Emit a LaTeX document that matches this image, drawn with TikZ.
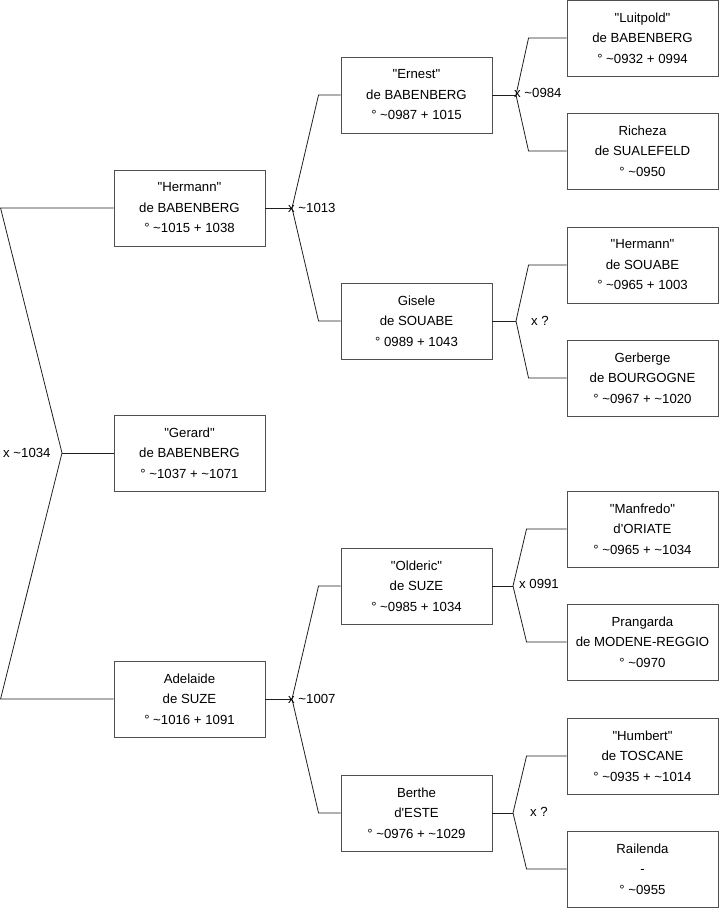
\documentclass[tikz,border=0pt]{standalone}
\usepackage{fontspec}
\usepackage{tikz}
\usetikzlibrary{positioning,calc}
\newfontfamily\treefont{Liberation Sans}
\newcommand{\apx}{\textasciitilde}
\definecolor{boxline}{HTML}{505050}
\definecolor{linkline}{HTML}{202020}

\begin{document}
\begin{tikzpicture}[
  x=1pt, y=-1pt,
  person/.style={rectangle, draw=boxline, line width=0.9pt, fill=white, minimum width=151pt, minimum height=76pt, inner sep=0pt, align=center, font=\treefont\fontsize{13.2}{20.5}\selectfont},
  link/.style={linkline, line width=0.8pt},
  mar/.style={anchor=west, inner sep=0pt, font=\treefont\fontsize{13.2}{15}\selectfont}
]
\useasboundingbox (0,0) rectangle (719,908);

% first generation
\node[person] (hermann)  at (189.5,208) {"Hermann"\\de BABENBERG\\° \apx1015 + 1038};
\node[person] (gerard)   at (189.5,453) {"Gerard"\\de BABENBERG\\° \apx1037 + \apx1071};
\node[person] (adelaide) at (189.5,699) {Adelaide\\de SUZE\\° \apx1016 + 1091};

% parents
\node[person] (ernest)  at (416.5,95)  {"Ernest"\\de BABENBERG\\° \apx0987 + 1015};
\node[person] (gisele)  at (416.5,321) {Gisele\\de SOUABE\\° 0989 + 1043};
\node[person] (olderic) at (416.5,586) {"Olderic"\\de SUZE\\° \apx0985 + 1034};
\node[person] (berthe)  at (416.5,813) {Berthe\\d'ESTE\\° \apx0976 + \apx1029};

% grandparents
\node[person] (luitpold)  at (642.5,38)  {"Luitpold"\\de BABENBERG\\° \apx0932 + 0994};
\node[person] (richeza)   at (642.5,151) {Richeza\\de SUALEFELD\\° \apx0950};
\node[person] (hermannS)  at (642.5,265) {"Hermann"\\de SOUABE\\° \apx0965 + 1003};
\node[person] (gerberge)  at (642.5,378) {Gerberge\\de BOURGOGNE\\° \apx0967 + \apx1020};
\node[person] (manfredo)  at (642.5,529) {"Manfredo"\\d'ORIATE\\° \apx0965 + \apx1034};
\node[person] (prangarda) at (642.5,642) {Prangarda\\de MODENE-REGGIO\\° \apx0970};
\node[person] (humbert)   at (642.5,756) {"Humbert"\\de TOSCANE\\° \apx0935 + \apx1014};
\node[person] (railenda)  at (642.5,869) {Railenda\\-\\° \apx0955};

% marriage points
\coordinate (mRoot) at (62,453);
\coordinate (mHE) at (292,208);
\coordinate (mAO) at (292,699);
\coordinate (mEL) at (516,95);
\coordinate (mGH) at (516,321);
\coordinate (mOM) at (513,586);
\coordinate (mBH) at (513,813);

% links
\draw[link] (hermann.west) -- ++(-113,0) -- (mRoot) -- ($(adelaide.west)+(-113,0)$) -- (adelaide.west);
\draw[link] (mRoot) -- (gerard.west);

\draw[link] (hermann.east) -- (mHE);
\draw[link] (ernest.west) -- ++(-22,0) -- (mHE) -- ($(gisele.west)+(-22,0)$) -- (gisele.west);
\draw[link] (adelaide.east) -- (mAO);
\draw[link] (olderic.west) -- ++(-22,0) -- (mAO) -- ($(berthe.west)+(-22,0)$) -- (berthe.west);

\draw[link] (ernest.east) -- (mEL);
\draw[link] (luitpold.west) -- ++(-38,0) -- (mEL) -- ($(richeza.west)+(-38,0)$) -- (richeza.west);
\draw[link] (gisele.east) -- (mGH);
\draw[link] (hermannS.west) -- ++(-38,0) -- (mGH) -- ($(gerberge.west)+(-38,0)$) -- (gerberge.west);
\draw[link] (olderic.east) -- (mOM);
\draw[link] (manfredo.west) -- ++(-40,0) -- (mOM) -- ($(prangarda.west)+(-40,0)$) -- (prangarda.west);
\draw[link] (berthe.east) -- (mBH);
\draw[link] (humbert.west) -- ++(-40,0) -- (mBH) -- ($(railenda.west)+(-40,0)$) -- (railenda.west);

% marriage dates
\node[mar] (lRoot) at (3,453)   {x \apx1034};
\node[mar] (lHE)   at (288,208) {x \apx1013};
\node[mar] (lAO)   at (288,699) {x \apx1007};
\node[mar] (lEL)   at (514,93)  {x \apx0984};
\node[mar] (lGH)   at (531,321) {x ?};
\node[mar] (lOM)   at (519,584) {x 0991};
\node[mar] (lBH)   at (530,812) {x ?};
\end{tikzpicture}
\end{document}
